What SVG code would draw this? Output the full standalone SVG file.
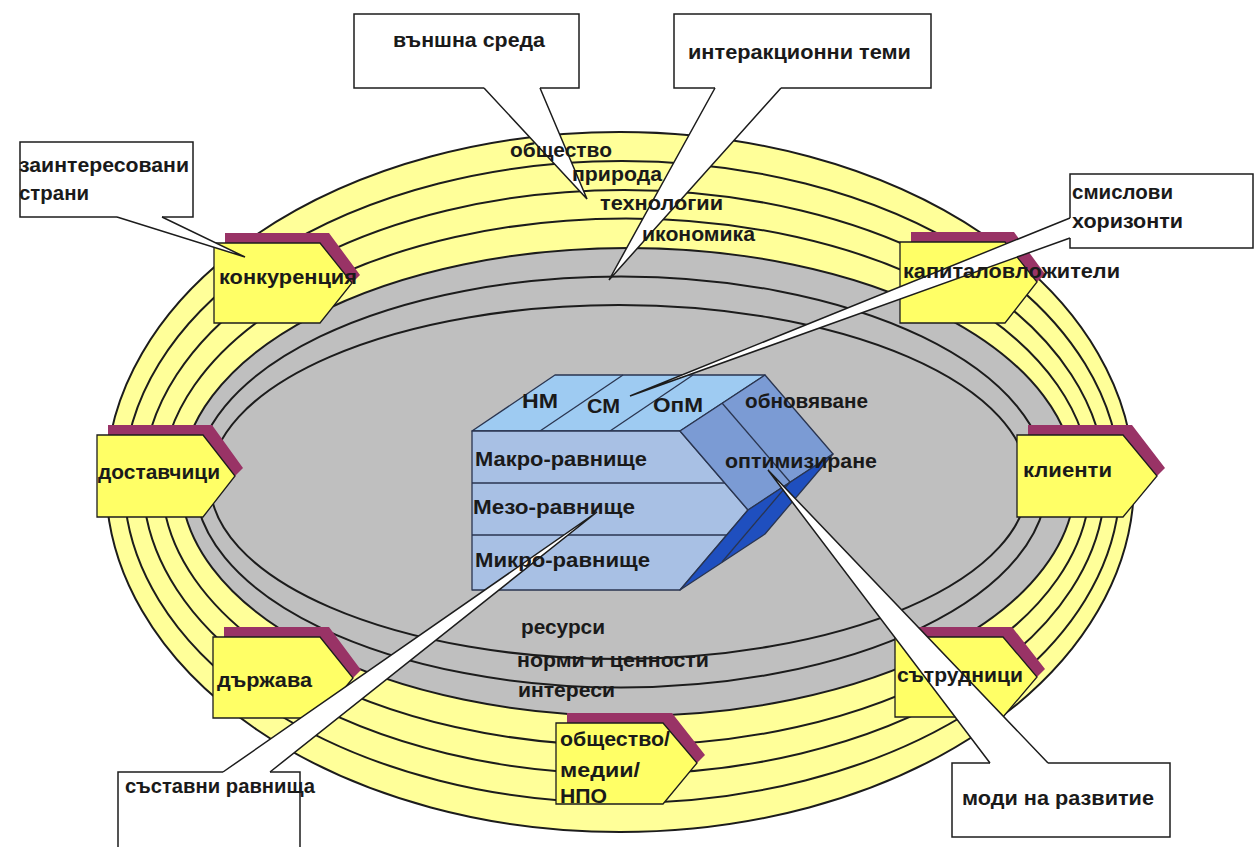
<svg xmlns="http://www.w3.org/2000/svg" width="1255" height="847" viewBox="0 0 1255 847">
<style>
.ring{fill:none;stroke:#1c1c1c;stroke-width:2}
.box{fill:#ffff66;stroke:#1c1c1c;stroke-width:1.3;stroke-linejoin:miter}
.shadow{fill:#993366}
.callout{fill:#ffffff;stroke:#1c1c1c;stroke-width:1.5}
.wedge{fill:#ffffff;stroke:none}
.wedge-edge{fill:none;stroke:#1c1c1c;stroke-width:1.5;stroke-linejoin:miter}
.cube{stroke:#2a3550;stroke-width:1.3;stroke-linejoin:round}
.cl{fill:none;stroke:#2a3550;stroke-width:1.3}
text{font-family:"Liberation Sans",Arial,sans-serif;font-weight:bold;font-size:20px;fill:#1a1a1a;lengthAdjust:spacingAndGlyphs}
</style>
<rect width="1255" height="847" fill="#ffffff"/>

<g id="environment">
  <ellipse cx="620" cy="482" rx="514" ry="350" fill="#ffff99" stroke="#1c1c1c" stroke-width="2"/>
  <ellipse class="ring" cx="622" cy="482" rx="498" ry="321"/>
  <ellipse class="ring" cx="624" cy="482" rx="481" ry="292"/>
  <ellipse class="ring" cx="626" cy="482" rx="464" ry="263.5"/>
  <ellipse cx="628" cy="482" rx="447" ry="234" fill="#bfbfbf" stroke="#1c1c1c" stroke-width="2"/>
  <ellipse class="ring" cx="621" cy="482" rx="426" ry="205.5"/>
  <ellipse class="ring" cx="619" cy="482" rx="409" ry="177"/>
</g>

<g id="cube">
  <polygon class="cube" fill="#9ecbf2" points="472,431 680,431 765,375 555,375"/>
  <line class="cl" x1="540" y1="431" x2="623" y2="375"/>
  <line class="cl" x1="610" y1="431" x2="693" y2="375"/>
  <polygon class="cube" fill="#a8c0e4" points="472,431 680,431 748,510 680,590 472,590"/>
  <line class="cl" x1="472" y1="483" x2="725" y2="483"/>
  <line class="cl" x1="472" y1="535" x2="727" y2="535"/>
  <polygon class="cube" fill="#7b9bd4" points="680,431 765,375 833,454 748,510"/>
  <line class="cl" x1="722" y1="403" x2="790" y2="482"/>
  <polygon class="cube" fill="#1f4fbf" points="748,510 833,454 765,534 680,590"/>
  <line class="cl" x1="790" y1="482" x2="722" y2="562"/>
</g>

<g id="konkurentsia">
  <polygon class="shadow" points="225,233 329,233 360,275 352,283 320,243 225,243"/>
  <polygon class="box" points="214,243 320,243 352,283 320,323 214,323"/>
</g>
<g id="kapitalovlozhiteli">
  <polygon class="shadow" points="911,232 1014,232 1045,274 1037,282 1005,242 911,242"/>
  <polygon class="box" points="900,242 1005,242 1037,282 1005,323 900,323"/>
</g>
<g id="dostavchitsi">
  <polygon class="shadow" points="108,425 212,425 243,468 235,476 203,435 108,435"/>
  <polygon class="box" points="97,435 203,435 235,476 203,517 97,517"/>
</g>
<g id="klienti">
  <polygon class="shadow" points="1028,425 1132,425 1165,468 1157,476 1123,435 1028,435"/>
  <polygon class="box" points="1017,435 1123,435 1157,476 1123,517 1017,517"/>
</g>
<g id="darzhava">
  <polygon class="shadow" points="224,627 329,627 361,670 353,678 320,637 224,637"/>
  <polygon class="box" points="213,637 320,637 353,678 320,718 213,718"/>
</g>
<g id="obshtestvo-medii-npo">
  <polygon class="shadow" points="567,713 672,713 705,755 697,763 663,723 567,723"/>
  <polygon class="box" points="556,723 663,723 697,763 663,804 556,804"/>
</g>
<g id="satrudnitsi">
  <polygon class="shadow" points="906,627 1012,627 1045,669 1037,677 1003,637 906,637"/>
  <polygon class="box" points="895,637 1003,637 1037,677 1003,717 895,717"/>
</g>

<g id="callout-vanshna-sreda">
  <rect class="callout" x="354" y="14" width="225" height="74"/>
</g>
<g id="callout-interaktsionni-temi">
  <rect class="callout" x="674" y="14" width="257" height="74"/>
</g>
<g id="callout-zainteresovani-strani">
  <rect class="callout" x="20" y="142" width="173" height="75"/>
</g>
<g id="callout-smislovi-horizonti">
  <rect class="callout" x="1070" y="174" width="183" height="74"/>
</g>
<g id="callout-sastavni-ravnishta">
  <rect class="callout" x="118" y="772" width="182" height="95"/>
</g>
<g id="callout-modi-na-razvitie">
  <rect class="callout" x="952" y="763" width="218" height="74"/>
</g>

<g id="connectors">
  <polygon class="wedge" points="484,86 540,86 540,88 587,199 484,88"/>
  <path class="wedge-edge" d="M484,88 L587,199 L540,88"/>
  <polygon class="wedge" points="715,86 781,86 781,88 609,280 715,88"/>
  <path class="wedge-edge" d="M715,88 L609,280 L781,88"/>
  <polygon class="wedge" points="117,215 162,215 162,217 245,257 117,217"/>
  <path class="wedge-edge" d="M117,217 L245,257 L162,217"/>
  <polygon class="wedge" points="1072,218 1072,238 1070,238 630,396 1070,218"/>
  <path class="wedge-edge" d="M1070,218 L630,396 L1070,238"/>
  <polygon class="wedge" points="223,774 270,774 270,772 597,512 223,772"/>
  <path class="wedge-edge" d="M223,772 L597,512 L270,772"/>
  <polygon class="wedge" points="990,765 1048,765 1048,763 768,470 990,763"/>
  <path class="wedge-edge" d="M990,763 L768,470 L1048,763"/>
</g>

<g id="labels">
  <text x="393" y="47" textLength="152" lengthAdjust="spacingAndGlyphs">външна среда</text>
  <text x="688" y="59" textLength="223" lengthAdjust="spacingAndGlyphs">интеракционни теми</text>
  <text x="19" y="172" textLength="170" lengthAdjust="spacingAndGlyphs">заинтересовани</text>
  <text x="19" y="200" textLength="70" lengthAdjust="spacingAndGlyphs">страни</text>
  <text x="1072" y="199" textLength="101" lengthAdjust="spacingAndGlyphs">смислови</text>
  <text x="1072" y="228" textLength="111" lengthAdjust="spacingAndGlyphs">хоризонти</text>
  <text x="125" y="793" textLength="190" lengthAdjust="spacingAndGlyphs">съставни равнища</text>
  <text x="962" y="805" textLength="192" lengthAdjust="spacingAndGlyphs">моди на развитие</text>

  <text x="510" y="157" textLength="102" lengthAdjust="spacingAndGlyphs">общество</text>
  <text x="572" y="181" textLength="90" lengthAdjust="spacingAndGlyphs">природа</text>
  <text x="600" y="210" textLength="123" lengthAdjust="spacingAndGlyphs">технологии</text>
  <text x="642" y="241" textLength="113" lengthAdjust="spacingAndGlyphs">икономика</text>
  <text x="521" y="634" textLength="84" lengthAdjust="spacingAndGlyphs">ресурси</text>
  <text x="517" y="667" textLength="192" lengthAdjust="spacingAndGlyphs">норми и ценности</text>
  <text x="518" y="697" textLength="97" lengthAdjust="spacingAndGlyphs">интереси</text>

  <text x="219" y="284" textLength="138" lengthAdjust="spacingAndGlyphs">конкуренция</text>
  <text x="98" y="479" textLength="122" lengthAdjust="spacingAndGlyphs">доставчици</text>
  <text x="903" y="278" textLength="217" lengthAdjust="spacingAndGlyphs">капиталовложители</text>
  <text x="1023" y="477" textLength="89" lengthAdjust="spacingAndGlyphs">клиенти</text>
  <text x="217" y="687" textLength="95" lengthAdjust="spacingAndGlyphs">държава</text>
  <text x="560" y="746" textLength="110" lengthAdjust="spacingAndGlyphs">общество/</text>
  <text x="560" y="777" textLength="80" lengthAdjust="spacingAndGlyphs">медии/</text>
  <text x="560" y="803" textLength="47" lengthAdjust="spacingAndGlyphs">НПО</text>
  <text x="897" y="682" textLength="126" lengthAdjust="spacingAndGlyphs">сътрудници</text>

  <text x="522" y="408" textLength="36" lengthAdjust="spacingAndGlyphs">НМ</text>
  <text x="587" y="413" textLength="33" lengthAdjust="spacingAndGlyphs">СМ</text>
  <text x="653" y="412" textLength="50" lengthAdjust="spacingAndGlyphs">ОпМ</text>
  <text x="745" y="408" textLength="123" lengthAdjust="spacingAndGlyphs">обновяване</text>
  <text x="475" y="466" textLength="172" lengthAdjust="spacingAndGlyphs">Макро-равнище</text>
  <text x="725" y="468" textLength="152" lengthAdjust="spacingAndGlyphs">оптимизиране</text>
  <text x="473" y="514" textLength="162" lengthAdjust="spacingAndGlyphs">Мезо-равнище</text>
  <text x="475" y="567" textLength="175" lengthAdjust="spacingAndGlyphs">Микро-равнище</text>
</g>
</svg>
